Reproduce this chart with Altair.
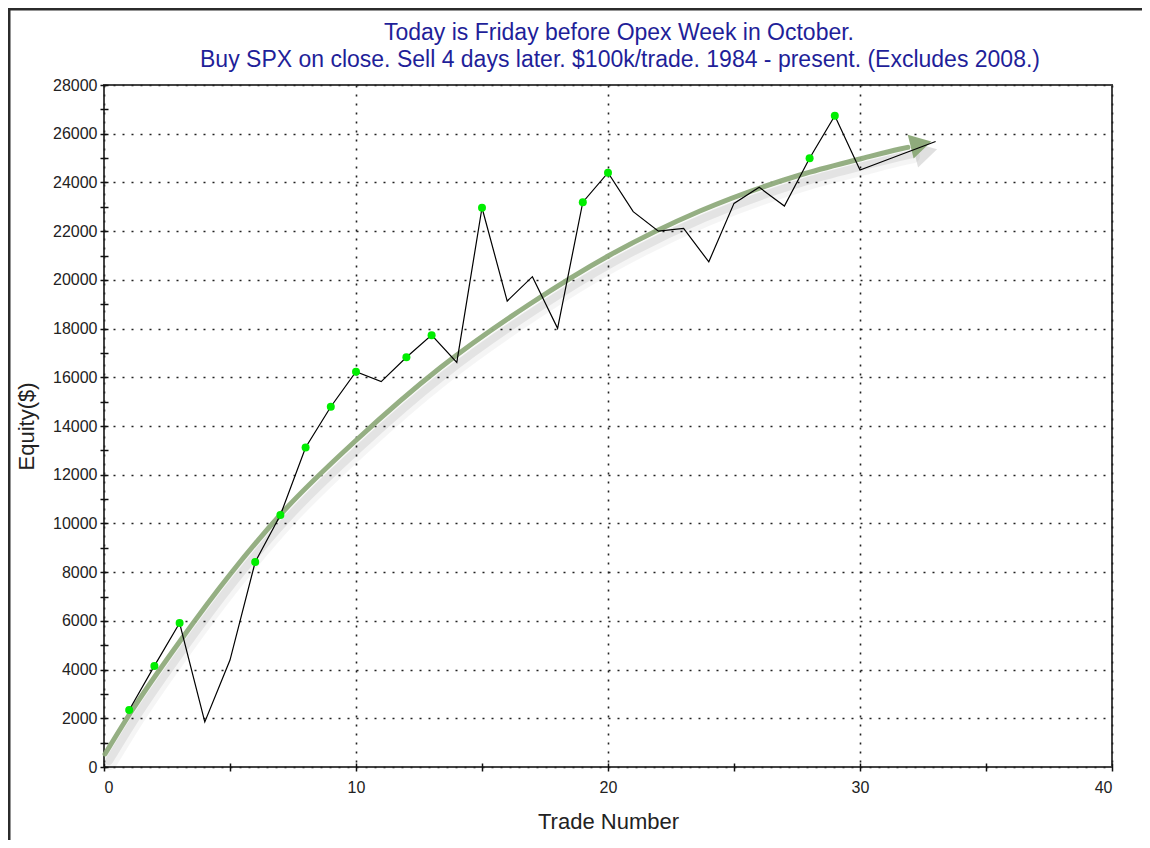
import altair as alt
import pandas as pd

# ---- data ----
trades = list(range(1, 34))
equity = [2340, 4150, 5910, 1850, 4390, 8415, 10345, 13120, 14790, 16230,
          15820, 16820, 17730, 16610, 22960, 19130, 20130, 18010, 23190, 24400,
          22800, 22000, 22110, 20740, 23140, 23800, 23030, 24990, 26740, 24510,
          24900, 25290, 25680]
# trades that set a new equity high (green dots)
high_trades = [1, 2, 3, 6, 7, 8, 9, 10, 12, 13, 15, 19, 20, 28, 29]

# hand-drawn trend arrow
arrow_x = [0.04, 1.07, 3.02, 5.0, 7.06, 10.04, 13.33, 16.9, 20.08, 23.65,
           27.62, 30.0, 31.59, 31.9]
arrow_y = [534, 2258, 5173, 7903, 10428, 13446, 16381, 19009, 21021, 22827,
           24305, 24962, 25373, 25440]
head_x = [32.42]
head_y = [25578]

x_ticks = [0, 5, 10, 15, 20, 25, 30, 35, 40]
y_ticks = list(range(0, 28001, 1000))

title_line1 = "Today is Friday before Opex Week in October."
title_line2 = "Buy SPX on close. Sell 4 days later. $100k/trade. 1984 - present. (Excludes 2008.)"

df = pd.DataFrame({"x": trades, "y": equity})
dots = df[df["x"].isin(high_trades)]
arrow = pd.DataFrame({"x": arrow_x, "y": arrow_y, "o": list(range(len(arrow_x)))})
head = pd.DataFrame({"x": head_x, "y": head_y})

FONT = "Liberation Sans"

xscale = alt.Scale(domain=[0, 40], nice=False, zero=False)
yscale = alt.Scale(domain=[0, 28000], nice=False, zero=False)

xaxis = alt.Axis(
    values=x_ticks, title="Trade Number",
    labelExpr="datum.value % 10 === 0 ? datum.label : ''",
    gridOpacity={"condition": {"test": "datum.value % 10 === 0", "value": 1}, "value": 0},
    domain=False, offset=-4, tickSize=8, tickWidth=1.5, tickColor="#111",
    labelPadding=8, labelFont=FONT, labelFontSize=16, labelColor="#222",
    titleFont=FONT, titleFontSize=22, titleFontWeight="normal", titleColor="#222",
    titlePadding=16, format="d",
)
yaxis = alt.Axis(
    values=y_ticks, title="Equity($)",
    labelExpr="datum.value % 2000 === 0 ? datum.label : ''",
    gridOpacity={"condition": {"test": "datum.value % 2000 === 0", "value": 1}, "value": 0},
    domain=False, offset=-4, tickSize=8, tickWidth=1.5, tickColor="#111",
    labelPadding=3, labelFont=FONT, labelFontSize=16, labelColor="#222",
    titleFont=FONT, titleFontSize=22, titleFontWeight="normal", titleColor="#222",
    titlePadding=14, format="d",
)

X = alt.X("x:Q", scale=xscale, axis=xaxis)
Y = alt.Y("y:Q", scale=yscale, axis=yaxis)

shadow1 = alt.Chart(arrow).mark_line(color="#000", opacity=0.04, strokeWidth=14, interpolate="monotone",
                                     xOffset=5, yOffset=9, strokeCap="round").encode(x=X, y=Y, order="o:Q")
shadow2 = alt.Chart(arrow).mark_line(color="#000", opacity=0.07, strokeWidth=8, interpolate="monotone",
                                     xOffset=4, yOffset=7, strokeCap="round").encode(x=X, y=Y, order="o:Q")
arrow_line = alt.Chart(arrow).mark_line(color="#8fab7c", opacity=0.95, strokeWidth=5,
                                        strokeCap="round", interpolate="monotone").encode(x=X, y=Y, order="o:Q")
head_shadow = alt.Chart(head).mark_point(shape="triangle-right", filled=True, color="#000",
                                         opacity=0.12, size=700, angle=346, xOffset=5, yOffset=8).encode(x=X, y=Y)
head_mark = alt.Chart(head).mark_point(shape="triangle-right", filled=True, color="#8fab7c",
                                       opacity=1, size=600, angle=346).encode(x=X, y=Y)

line = alt.Chart(df).mark_line(color="#000", strokeWidth=1.2).encode(x=X, y=Y)
pts = alt.Chart(dots).mark_circle(color="#00ee00", size=64, opacity=1).encode(x=X, y=Y)

one = alt.Data(values=[{}])
t1 = alt.Chart(one).mark_text(
    font=FONT, fontSize=23, color="#1f1f99", align="center", baseline="middle", text=title_line1
).encode(x=alt.value(515), y=alt.value(-52))
t2 = alt.Chart(one).mark_text(
    font=FONT, fontSize=23, color="#1f1f99", align="center", baseline="middle", text=title_line2
).encode(x=alt.value(516), y=alt.value(-25))

frame_left = alt.Chart(one).mark_rule(color="#2b2b2b", strokeWidth=3).encode(
    x=alt.value(-95), y=alt.value(-80), y2=alt.value(760))
frame_top = alt.Chart(one).mark_rule(color="#2b2b2b", strokeWidth=3).encode(
    x=alt.value(-96), x2=alt.value(1040), y=alt.value(-76))

chart = alt.layer(
    shadow1, shadow2, arrow_line, head_shadow, head_mark, line, pts,
    t1, t2, frame_left, frame_top
).properties(
    width=1008, height=682,
    autosize=alt.AutoSizeParams(type="none"),
    padding={"left": 96, "top": 77, "right": 30, "bottom": 73},
    background="white",
).configure_view(
    stroke="#444", strokeWidth=2
).configure_axis(
    gridColor="#222", gridDash=[2, 7], gridWidth=1.6
)

chart.save("out.html", embed_options={"renderer": "svg", "actions": False})
